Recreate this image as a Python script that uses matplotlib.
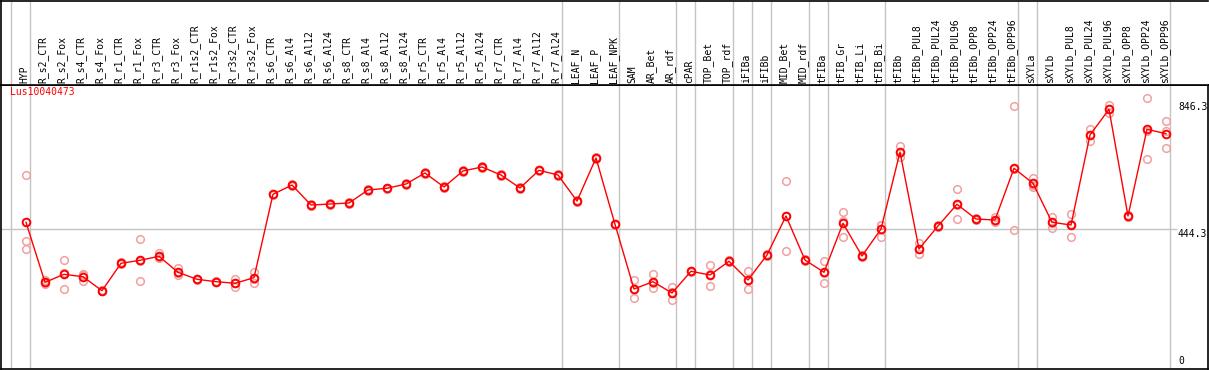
import numpy as np
import matplotlib
matplotlib.use("Agg")
import matplotlib.pyplot as plt

gene = "Lus10040473"

samples = [
    "HYP", "R_s2_CTR", "R_s2_Fox", "R_s4_CTR", "R_s4_Fox", "R_r1_CTR", "R_r1_Fox",
    "R_r3_CTR", "R_r3_Fox", "R_r1s2_CTR", "R_r1s2_Fox", "R_r3s2_CTR", "R_r3s2_Fox",
    "R_s6_CTR", "R_s6_Al4", "R_s6_Al12", "R_s6_Al24", "R_s8_CTR", "R_s8_Al4",
    "R_s8_Al12", "R_s8_Al24", "R_r5_CTR", "R_r5_Al4", "R_r5_Al12", "R_r5_Al24",
    "R_r7_CTR", "R_r7_Al4", "R_r7_Al12", "R_r7_Al24", "LEAF_N", "LEAF_P", "LEAF_NPK",
    "SAM", "AR_Bet", "AR_rdf", "cPAR", "TOP_Bet", "TOP_rdf", "iFIBa", "iFIBb",
    "MID_Bet", "MID_rdf", "tFIBa", "tFIB_Gr", "tFIB_Li", "tFIB_Bi", "tFIBb",
    "tFIBb_PUL8", "tFIBb_PUL24", "tFIBb_PUL96", "tFIBb_OPP8", "tFIBb_OPP24",
    "tFIBb_OPP96", "sXYLa", "sXYLb", "sXYLb_PUL8", "sXYLb_PUL24", "sXYLb_PUL96",
    "sXYLb_OPP8", "sXYLb_OPP24", "sXYLb_OPP96",
]

mean_expr = [
    464.1, 273.6, 299.0, 291.4, 247.0, 334.0, 343.5, 356.2, 305.4, 283.2, 275.6, 270.5, 288.3,
    553.0, 582.5, 519.0, 522.2, 525.4, 566.7, 572.1, 585.7, 620.6, 576.2, 627.0, 639.7,
    614.3, 573.0, 629.2, 614.3,
    531.7, 668.3, 457.8,
    252.4, 275.6, 239.7,
    308.6, 296.8, 340.3,
    281.0, 360.3,
    484.1, 344.4,
    305.4,
    461.0, 357.1, 442.9,
    687.3, 379.4, 452.4, 521.3, 474.6, 471.4, 635.6,
    587.9, 464.1, 455.6, 741.3, 822.9, 484.1, 759.4, 745.4,
]

rep1 = [
    613.3, 281.0, 343.5, 299.0, 249.0, 337.0, 411.1, 365.7, 318.1, 285.0, 277.0, 283.2, 307.3,
    555.0, 584.5, 521.0, 524.2, 527.4, 568.7, 574.1, 587.7, 622.6, 578.2, 629.0, 641.7,
    616.3, 575.0, 631.2, 616.3,
    533.7, 670.3, 460.0,
    281.0, 300.0, 259.7,
    311.0, 328.6, 343.0,
    309.5, 363.0,
    595.2, 347.0,
    341.3,
    496.8, 360.0, 456.5,
    706.3, 397.5, 455.0, 569.8, 477.0, 480.0, 833.3,
    605.7, 481.9, 490.5, 759.4, 835.6, 486.0, 858.7, 784.8,
]

rep2 = [
    404.8, 271.0, 251.4, 278.7, 246.0, 331.0, 276.8, 349.8, 296.8, 281.0, 274.0, 257.8, 272.4,
    551.0, 580.5, 517.0, 520.2, 523.4, 564.7, 570.1, 583.7, 618.6, 574.2, 625.0, 637.7,
    612.3, 571.0, 627.2, 612.3,
    529.7, 666.3, 456.0,
    222.9, 254.6, 217.5,
    306.0, 261.9, 338.0,
    251.4, 358.0,
    372.1, 342.0,
    270.5,
    468.3, 354.0, 417.5,
    672.4, 362.5, 450.0, 473.7, 472.0, 466.0, 438.7,
    575.2, 447.0, 416.5, 722.2, 812.1, 482.0, 665.1, 699.1,
]

rep3 = [
    378.4, 268.0, 302.2, 296.8, 246.0, 334.0, 342.2, 354.0, 303.2, 284.0, 276.0, 271.4, 284.1,
    553.0, 582.5, 519.0, 522.2, 525.4, 566.7, 572.1, 585.7, 620.6, 576.2, 627.0, 639.7,
    614.3, 573.0, 629.2, 614.3,
    531.7, 668.3, 457.8,
    252.4, 271.4, 242.9,
    309.0, 300.0, 340.0,
    281.0, 360.0,
    484.1, 344.0,
    303.2,
    417.5, 357.0, 454.6,
    684.0, 379.4, 452.0, 520.0, 475.0, 468.3, 634.3,
    582.5, 462.9, 458.7, 741.3, 822.9, 484.0, 753.9, 752.4,
]

# group separators: index of first sample in each block (plus the end)
group_starts = [0, 1, 29, 32, 35, 36, 38, 39, 40, 42, 43, 46, 53, 54, 61]
ref_lines = [846.3, 444.3]
y_max = 900.0

W, H = 1209, 370
px = 19.0          # pixels per sample slot
x0_px = 26.0       # pixel x of the first sample
x_lo = (1 - x0_px) / px
x_hi = (1208 - x0_px) / px

mono = "DejaVu Sans Mono"
fig = plt.figure(figsize=(W / 100, H / 100), dpi=100)

ax = fig.add_axes([1 / W, 1.5 / H, 1207 / W, 283.5 / H])
hd = fig.add_axes([1 / W, 285 / H, 1207 / W, 84.5 / H])

x = np.arange(len(samples))
for a in (ax, hd):
    a.set_xlim(x_lo, x_hi)
    a.set_xticks([])
    a.set_yticks([])
    for s in a.spines.values():
        s.set_color("black")
        s.set_linewidth(1.2)
    for g in group_starts:
        a.axvline(g - 15 / px, color="#c4c4c4", linewidth=1.0, zorder=0)

hd.set_ylim(0, 85)
hd.spines["right"].set_visible(False)
for i, name in enumerate(samples):
    hd.text(i - 0.1, 2, name, rotation=90, ha="center", va="bottom",
            fontsize=7, family=mono, color="black")

ax.set_ylim(0, y_max)
ax.plot([x_lo, (1176 - x0_px) / px], [ref_lines[1]] * 2, color="#c4c4c4",
        linewidth=1.0, zorder=0)

for reps in (rep1, rep2, rep3):
    ax.plot(x, reps, "o", linestyle="none", markersize=5.5, markerfacecolor="none",
            markeredgecolor="#f0a0a0", markeredgewidth=1.1, zorder=2)
ax.plot(x, mean_expr, "-", color="red", linewidth=1.0, zorder=3)
ax.plot(x, mean_expr, "o", linestyle="none", markersize=5.5, markerfacecolor="none",
        markeredgecolor="red", markeredgewidth=1.4, zorder=4)

xl = (1178 - x0_px) / px
for v in ref_lines:
    ax.text(xl, v, f"{v}", ha="left", va="top", fontsize=7, family=mono, color="black")
ax.text(xl, 8, "0", ha="left", va="bottom", fontsize=7, family=mono, color="black")

ax.text(x_lo + 9 / px, y_max - 5, gene, ha="left", va="top", fontsize=7,
        family=mono, color="red")

fig.savefig("out.png", dpi=100)
